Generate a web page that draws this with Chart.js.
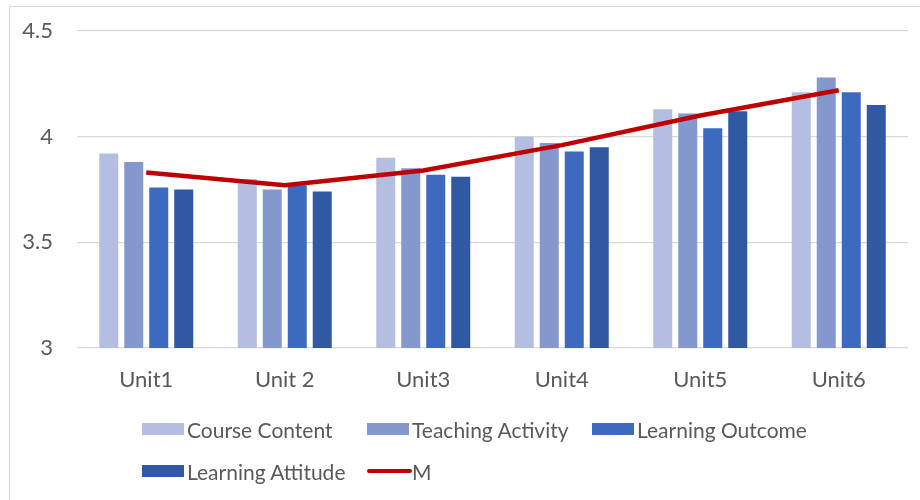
<!DOCTYPE html>
<html>
<head>
<meta charset="utf-8">
<script src="https://cdn.jsdelivr.net/npm/chart.js@4/dist/chart.umd.min.js"></script>
<style>
  html, body { margin: 0; padding: 0; background: #fff; overflow: hidden; }
  #wrap { position: relative; width: 920px; height: 500px; }
  #frame {
    position: absolute; left: 9px; top: 6px; width: 1000px; height: 600px;
    border: 1.5px solid #d9d9d9; box-sizing: border-box;
  }
  #chart { position: absolute; left: 0; top: 0; }
  #legend {
    position: absolute; left: 142px; top: 416px;
    display: grid; grid-template-columns: repeat(3, 225px); row-gap: 16px;
    font-family: Lato, "Open Sans", sans-serif; font-size: 21px; color: #595959;
  }
  .item { display: flex; align-items: center; height: 26px; white-space: nowrap; }
  .box { width: 42px; height: 12px; margin-right: 3px; }
  .ln { width: 45px; height: 4px; border-radius: 2px; margin-right: 0; }
</style>
</head>
<body>
<div id="wrap">
  <div id="frame"></div>
  <canvas id="chart" width="920" height="500"></canvas>
  <div id="legend"></div>
</div>
<script>
const units = ["Unit1", "Unit 2", "Unit3", "Unit4", "Unit5", "Unit6"];
const courseContent = [3.92, 3.80, 3.90, 4.00, 4.13, 4.21];
const teachingActivity = [3.88, 3.75, 3.85, 3.97, 4.11, 4.28];
const learningOutcome = [3.76, 3.77, 3.82, 3.93, 4.04, 4.21];
const learningAttitude = [3.75, 3.74, 3.81, 3.95, 4.12, 4.15];
const meanM = [3.83, 3.77, 3.84, 3.96, 4.10, 4.22];

const textColor = "#595959";
const font = { family: "Lato, 'Open Sans', sans-serif", size: 22 };

function bar(label, data, color) {
  return {
    type: "bar",
    label: label,
    data: data,
    backgroundColor: color,
    borderWidth: 0,
    categoryPercentage: 0.722,
    barPercentage: 0.76,
    order: 1,
  };
}

const ctx = document.getElementById("chart").getContext("2d");
const chart = new Chart(ctx, {
  data: {
    labels: units,
    datasets: [
      bar("Course Content", courseContent, "#b3bee1"),
      bar("Teaching Activity", teachingActivity, "#8498ce"),
      bar("Learning Outcome", learningOutcome, "#3d69bf"),
      bar("Learning Attitude", learningAttitude, "#3058a3"),
      {
        type: "line",
        label: "M",
        data: meanM,
        borderColor: "#c00000",
        backgroundColor: "#c00000",
        borderWidth: 4.5,
        pointRadius: 0,
        tension: 0,
        fill: false,
        order: 0,
      },
    ],
  },
  options: {
    responsive: false,
    animation: false,
    layout: { padding: { top: 31, right: 12, left: 0, bottom: 0 } },
    plugins: {
      legend: { display: false },
      tooltip: { enabled: false },
    },
    scales: {
      x: {
        grid: { display: false, drawTicks: false },
        border: { display: false },
        ticks: { color: textColor, font: font, padding: 19 },
        afterFit: function (scale) {
          scale.height = 152;
        },
      },
      y: {
        min: 3,
        max: 4.5,
        ticks: {
          stepSize: 0.5,
          color: textColor,
          font: font,
          padding: 24,
          callback: function (value) {
            return String(value);
          },
        },
        grid: { color: "#d9d9d9", lineWidth: 1.3, drawTicks: false },
        border: { display: false },
        afterFit: function (scale) {
          scale.width = 77;
          // tick padding should not push the plot down
          scale.paddingTop = 0;
          scale.paddingBottom = 0;
        },
      },
    },
  },
});

// legend as html, in a three column grid like the original
const legend = document.getElementById("legend");
chart.data.datasets.forEach(function (ds) {
  const item = document.createElement("div");
  item.className = "item";
  const sw = document.createElement("span");
  sw.className = ds.type === "line" ? "ln" : "box";
  sw.style.background = ds.type === "line" ? ds.borderColor : ds.backgroundColor;
  const txt = document.createElement("span");
  txt.textContent = ds.label;
  item.appendChild(sw);
  item.appendChild(txt);
  legend.appendChild(item);
});
</script>
</body>
</html>
